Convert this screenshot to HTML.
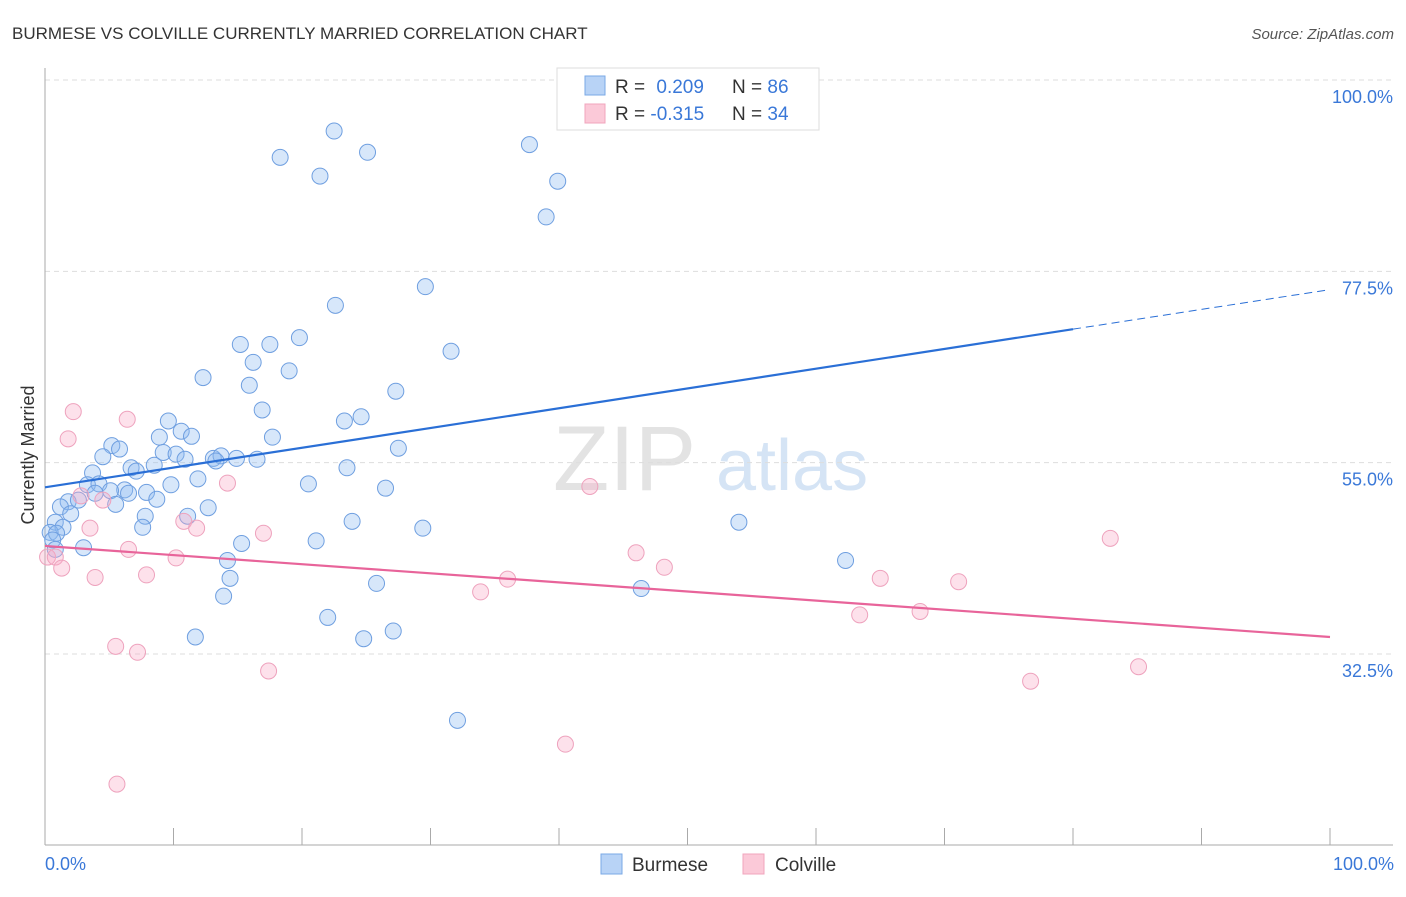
<!DOCTYPE html>
<html><head><meta charset="utf-8"><style>
body{margin:0;background:#fff;font-family:"Liberation Sans",sans-serif;}
svg text{font-family:"Liberation Sans",sans-serif;}
</style></head><body>
<svg id="chart" width="1406" height="892" xmlns="http://www.w3.org/2000/svg">
<text x="12" y="39" font-size="17" fill="#333">BURMESE VS COLVILLE CURRENTLY MARRIED CORRELATION CHART</text>
<text x="1394" y="39" font-size="15" fill="#555" font-style="italic" text-anchor="end">Source: ZipAtlas.com</text>
<g>
<text x="553" y="490" font-size="92" fill="#e3e3e3" font-family="Liberation Serif">ZIP</text>
<text x="716" y="490" font-size="72" fill="#d5e4f5">atlas</text>
</g>
<g id="grid"></g>
<g id="axes"></g>
<g id="points"></g>
<g id="lines"></g>
<text transform="translate(34,455) rotate(-90)" font-size="18" fill="#333" text-anchor="middle">Currently Married</text>
<text x="45" y="870" font-size="18" fill="#3a78d8">0.0%</text>
<text x="1394" y="870" font-size="18" fill="#3a78d8" text-anchor="end">100.0%</text>
<g>
<rect x="557" y="68" width="262" height="62" fill="#fff" stroke="#ddd"/>
<rect x="585" y="76" width="20" height="19" fill="#b8d3f6" stroke="#7aa8e6"/>
<rect x="585" y="104" width="20" height="19" fill="#fbc9d8" stroke="#f0a5bd"/>
<text x="615" y="93" font-size="19" fill="#333">R = <tspan fill="#3a78d8" dx="6">0.209</tspan></text>
<text x="732" y="93" font-size="19" fill="#333">N = <tspan fill="#3a78d8">86</tspan></text>
<text x="615" y="120" font-size="19" fill="#333">R = <tspan fill="#3a78d8">-0.315</tspan></text>
<text x="732" y="120" font-size="19" fill="#333">N = <tspan fill="#3a78d8">34</tspan></text>
</g>
<g>
<rect x="601" y="854" width="21" height="20" fill="#b8d3f6" stroke="#7aa8e6"/>
<text x="632" y="871" font-size="19" fill="#333">Burmese</text>
<rect x="743" y="854" width="21" height="20" fill="#fbc9d8" stroke="#f0a5bd"/>
<text x="775" y="871" font-size="19" fill="#333">Colville</text>
</g>
</svg>
<script>
const yTicks=[100,77.5,55,32.5];
const yTickLabels=["100.0%","77.5%","55.0%","32.5%"];
const xTicks=[0,10,20,30,40,50,60,70,80,90,100];
const burmeseX=[22.5,18.3,25.1,21.4,37.7,39.9,39.0,29.6,22.6,19.8,15.2,17.5,16.2,31.6,12.3,19.0,15.9,27.3,16.9,23.3,24.6,9.6,10.6,8.9,11.4,17.7,27.5,5.2,5.8,4.5,9.2,10.2,10.9,13.1,13.7,14.9,16.5,13.3,6.7,7.1,8.5,23.5,3.7,11.9,9.8,20.5,3.3,4.2,6.2,7.9,26.5,3.9,5.1,6.5,8.7,1.8,2.6,5.5,1.2,12.7,2.0,7.8,11.1,0.8,7.6,1.4,23.9,29.4,54.0,0.4,0.9,0.6,21.1,15.3,3.0,0.8,14.2,62.3,14.4,25.8,46.4,13.9,22.0,11.7,24.8,27.1,32.1];
const burmeseY=[94.0,90.9,91.5,88.7,92.4,88.1,83.9,75.7,73.5,69.7,68.9,68.9,66.8,68.1,65.0,65.8,64.1,63.4,61.2,59.9,60.4,59.9,58.7,58.0,58.1,58.0,56.7,57.0,56.6,55.7,56.2,56.0,55.4,55.5,55.8,55.5,55.4,55.2,54.4,54.0,54.7,54.4,53.8,53.1,52.4,52.5,52.4,52.5,51.8,51.5,52.0,51.4,51.7,51.4,50.7,50.4,50.6,50.1,49.8,49.7,49.0,48.7,48.7,48.0,47.4,47.4,48.1,47.3,48.0,46.8,46.7,45.9,45.8,45.5,45.0,44.8,43.5,43.5,41.4,40.8,40.2,39.3,36.8,34.5,34.3,35.2,24.7];
const colvilleX=[2.2,6.4,1.8,2.8,4.5,3.5,10.8,11.8,14.2,17.0,6.5,0.2,0.8,1.3,3.9,7.9,10.2,42.4,46.0,48.2,36.0,33.9,65.0,71.1,82.9,63.4,68.1,5.5,7.2,17.4,76.7,85.1,40.5,5.6];
const colvilleY=[61.0,60.1,57.8,51.1,50.6,47.3,48.1,47.3,52.6,46.7,44.8,43.9,43.9,42.6,41.5,41.8,43.8,52.2,44.4,42.7,41.3,39.8,41.4,41.0,46.1,37.1,37.5,33.4,32.7,30.5,29.3,31.0,21.9,17.2];
const burmeseFit=[52.1,0.2325];
const colvilleFit=[45.2,-0.107];

const NS="http://www.w3.org/2000/svg";
const X0=45,X1=1330,Y100=80,Y325=654;
function sx(v){return X0+(X1-X0)*v/100;}
function sy(v){return Y100+(100-v)*(Y325-Y100)/67.5;}
function mk(tag,attrs,parent){const e=document.createElementNS(NS,tag);for(const k in attrs)e.setAttribute(k,attrs[k]);parent.appendChild(e);return e;}
const grid=document.getElementById('grid'),axes=document.getElementById('axes'),pts=document.getElementById('points'),lines=document.getElementById('lines');
yTicks.forEach((t,i)=>{
 const l=mk('line',{x1:45,x2:1393,y1:sy(t),y2:sy(t),stroke:'#ddd','stroke-dasharray':'5,4'},grid);
 
 
 const tx=mk('text',{x:1393,y:sy(t)+23,'font-size':18,fill:'#3a78d8','text-anchor':'end'},grid);
 tx.textContent=yTickLabels[i];
 
 
});
const ya=mk('line',{x1:45,x2:45,y1:68,y2:845,stroke:'#aaa'},axes);


const xa=mk('line',{x1:45,x2:1393,y1:845,y2:845,stroke:'#aaa'},axes);


xTicks.forEach(t=>{
 const l=mk('line',{x1:sx(t),x2:sx(t),y1:828,y2:845,stroke:'#aaa'},axes);
 
 
});
function drawPts(xs,ys,fill,stroke,name){
 xs.forEach((x,i)=>{
  const c=mk('circle',{cx:sx(x),cy:sy(ys[i]),r:8,fill:fill,stroke:stroke,'stroke-width':1},pts);
  
  
 });
}
drawPts(burmeseX,burmeseY,'rgba(140,185,240,0.35)','#6f9fe0','burmese-point');
drawPts(colvilleX,colvilleY,'rgba(248,170,198,0.35)','#eea2bd','colville-point');
const b1=mk('line',{x1:sx(0),y1:sy(burmeseFit[0]),x2:sx(80),y2:sy(burmeseFit[0]+80*burmeseFit[1]),stroke:'#2a6fd6','stroke-width':2.2},lines);


const b2=mk('line',{x1:sx(80),y1:sy(burmeseFit[0]+80*burmeseFit[1]),x2:sx(100),y2:sy(burmeseFit[0]+100*burmeseFit[1]),stroke:'#2a6fd6','stroke-width':1,'stroke-dasharray':'8,5'},lines);


const c1=mk('line',{x1:sx(0),y1:sy(colvilleFit[0]),x2:sx(100),y2:sy(colvilleFit[0]+100*colvilleFit[1]),stroke:'#e8649a','stroke-width':2.2},lines);


</script>
</body></html>
